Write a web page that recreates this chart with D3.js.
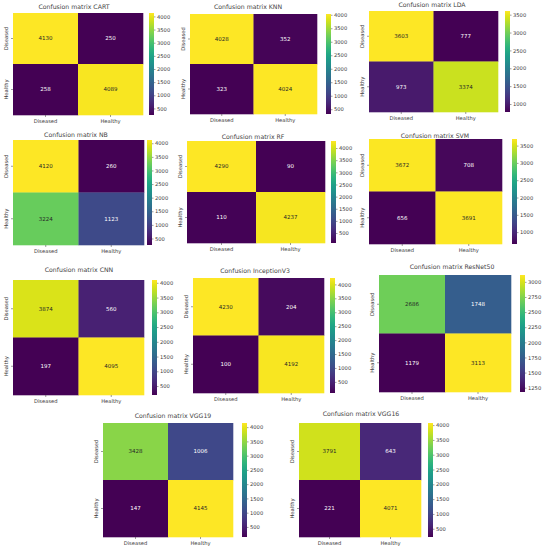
<!DOCTYPE html>
<html><head><meta charset="utf-8">
<script src="https://cdn.jsdelivr.net/npm/d3@7"></script>
<style>body{margin:0;background:#fff}svg{display:block}</style>
</head><body><svg id="c" width="544" height="550"></svg>
<script>
// ---------- data ----------
const titles = ["Confusion matrix CART","Confusion matrix KNN","Confusion matrix LDA",
  "Confusion matrix NB","Confusion matrix RF","Confusion matrix SVM",
  "Confusion matrix CNN","Confusion InceptionV3","Confusion matrix ResNet50",
  "Confusion matrix VGG19","Confusion matrix VGG16"];
const classLabels = ["Diseased","Healthy"];
const diseasedAsDiseased = [4130,4028,3603,4120,4290,3672,3874,4230,2686,3428,3791];
const diseasedAsHealthy  = [250,352,777,260,90,708,560,204,1748,1006,643];
const healthyAsDiseased  = [258,323,973,3224,110,656,197,100,1179,147,221];
const healthyAsHealthy   = [4089,4024,3374,1123,4237,3691,4095,4192,3113,4145,4071];
const ticks500  = [500,1000,1500,2000,2500,3000,3500,4000];
const ticks1000 = [1000,1500,2000,2500,3000,3500];
const ticksRes  = [1250,1500,1750,2000,2250,2500,2750,3000];
const colorbarTicks = [ticks500,ticks500,ticks1000,ticks500,ticks500,ticks1000,
  ticks500,ticks500,ticksRes,ticks500,ticks500];

// ---------- layout (pixel boxes of each panel) ----------
const layout = [
  {x0:13, x1:143, y0:13, y1:115, c0:149, tx:74, ty:7},
  {x0:190,x1:317, y0:14, y1:114, c0:326, tx:248,ty:7},
  {x0:369,x1:498, y0:11, y1:112, c0:505, tx:432,ty:5},
  {x0:13, x1:144, y0:140,y1:245, c0:147, tx:76, ty:135},
  {x0:187,x1:325, y0:141,y1:243, c0:331, tx:253,ty:137},
  {x0:369,x1:502, y0:139,y1:244, c0:512, tx:435,ty:136},
  {x0:13, x1:144, y0:280,y1:395, c0:152, tx:79, ty:270},
  {x0:193,x1:324, y0:278,y1:393, c0:330, tx:255,ty:271},
  {x0:379,x1:511, y0:275,y1:392, c0:520, tx:452,ty:267},
  {x0:103,x1:233, y0:423,y1:537, c0:242, tx:173,ty:416},
  {x0:299,x1:421, y0:423,y1:537, c0:428, tx:361,ty:414}
];
const cbW = 5;
const txtCol = "#3a3a3a";
const font = "DejaVu Sans, sans-serif";

function lum(c){
  const r = d3.rgb(c);
  const f = v => { v/=255; return v<=0.03928 ? v/12.92 : Math.pow((v+0.055)/1.055,2.4); };
  return 0.2126*f(r.r)+0.7152*f(r.g)+0.0722*f(r.b);
}

const svg = d3.select("#c");
const defs = svg.append("defs");

titles.forEach((title,i)=>{
  const L = layout[i];
  const matrix = [
    [diseasedAsDiseased[i], diseasedAsHealthy[i]],
    [healthyAsDiseased[i],  healthyAsHealthy[i]]
  ];
  const flat = matrix.flat();
  const vmin = d3.min(flat), vmax = d3.max(flat);
  const color = d3.scaleSequential(d3.interpolateViridis).domain([vmin,vmax]);
  const x = d3.scaleBand().domain(classLabels).range([L.x0,L.x1]);
  const y = d3.scaleBand().domain(classLabels).range([L.y0,L.y1]);
  const g = svg.append("g");

  const cells = [];
  classLabels.forEach((rl,r)=>classLabels.forEach((cl,c)=>cells.push({r:rl,c:cl,v:matrix[r][c]})));
  g.selectAll("rect.cell").data(cells).enter().append("rect")
    .attr("x",d=>x(d.c)).attr("y",d=>y(d.r))
    .attr("width",x.bandwidth()+0.3).attr("height",y.bandwidth()+0.3)
    .attr("fill",d=>color(d.v));
  g.selectAll("text.ann").data(cells).enter().append("text")
    .attr("x",d=>x(d.c)+x.bandwidth()/2).attr("y",d=>y(d.r)+y.bandwidth()/2)
    .attr("dy","0.35em").attr("text-anchor","middle")
    .attr("font-family",font).attr("font-size",5.5)
    .attr("fill",d=>lum(color(d.v))>0.408 ? "#262626" : "#ffffff")
    .text(d=>d.v);

  // axes
  const xa = g.append("g").attr("transform",`translate(0,${L.y1})`)
    .call(d3.axisBottom(x).tickSize(2).tickPadding(2));
  const ya = g.append("g").attr("transform",`translate(${L.x0},0)`)
    .call(d3.axisLeft(y).tickSize(2).tickPadding(2));
  ya.selectAll("text").attr("transform","rotate(-90)").attr("x",0).attr("y",-5.5)
    .attr("dy","0").attr("text-anchor","middle");
  [xa,ya].forEach(a=>{
    a.select(".domain").remove();
    a.selectAll("line").attr("stroke",txtCol).attr("stroke-width",0.5);
    a.selectAll("text").attr("font-family",font).attr("font-size",5.2).attr("fill",txtCol);
  });

  // colorbar
  const gid = "grad"+i;
  const grad = defs.append("linearGradient").attr("id",gid)
    .attr("x1","0").attr("y1","1").attr("x2","0").attr("y2","0");
  d3.range(0,1.0001,0.05).forEach(t=>grad.append("stop")
    .attr("offset",t).attr("stop-color",d3.interpolateViridis(t)));
  g.append("rect").attr("x",L.c0).attr("y",L.y0).attr("width",cbW)
    .attr("height",L.y1-L.y0).attr("fill",`url(#${gid})`);
  const cs = d3.scaleLinear().domain([vmin,vmax]).range([L.y1,L.y0]);
  const ca = g.append("g").attr("transform",`translate(${L.c0+cbW},0)`)
    .call(d3.axisRight(cs).tickValues(colorbarTicks[i].filter(t=>t>=vmin&&t<=vmax))
      .tickFormat(d3.format("d")).tickSize(1.5).tickPadding(1.5));
  ca.select(".domain").remove();
  ca.selectAll("line").attr("stroke",txtCol).attr("stroke-width",0.5);
  ca.selectAll("text").attr("font-family",font).attr("font-size",5.2).attr("fill",txtCol);

  // title
  g.append("text").attr("x",L.tx).attr("y",L.ty).attr("dy","0.35em")
    .attr("text-anchor","middle").attr("font-family",font).attr("font-size",6.2)
    .attr("fill","#444").text(title);
});
</script>
</body></html>
